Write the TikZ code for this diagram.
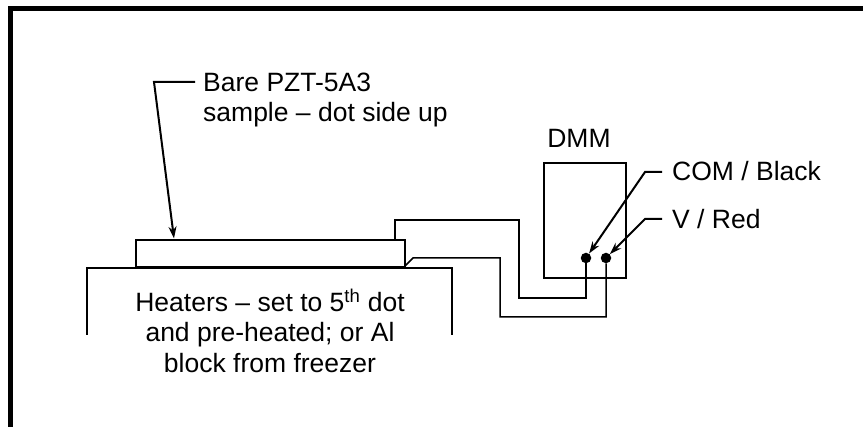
\documentclass[tikz,border=0pt]{standalone}
\usepackage{fontspec}
\setmainfont{Liberation Sans}
\usetikzlibrary{arrows.meta}
\tikzset{
 px/.style={x=1pt,y=-1pt},
 lbl/.style={inner sep=0pt,font=\fontsize{26.5}{30}\selectfont,text=black},
 frameline/.style={line width=4.6pt,line cap=butt},
 thick box/.style={line width=2.2pt},
 wire/.style={line width=1.5pt},
 leader/.style={line width=2pt,-{Stealth[length=12pt,width=8pt]}},
 term/.style={circle,fill=black,minimum size=10.5pt,inner sep=0pt},
}
\begin{document}
\begin{tikzpicture}[px]
\useasboundingbox (0,0) rectangle (863,427);
\fill[white] (0,0) rectangle (863,427);
% frame
\coordinate (fbl) at (10.5,427); \coordinate (ftl) at (10.5,8.5); \coordinate (ftr) at (863,8.5);
\draw[frameline] (fbl) -- (ftl) -- (ftr);
% heater
\coordinate (hbl) at (87,335); \coordinate (htl) at (87,268); \coordinate (htr) at (452,268); \coordinate (hbr) at (452,335);
\draw[thick box] (hbl) -- (htl) -- (htr) -- (hbr);
% sample
\node[draw,thick box,minimum width=269pt,minimum height=27.5pt,inner sep=0pt,anchor=north west] (sample) at (135,239) {};
% DMM
\node[draw,thick box,minimum width=82pt,minimum height=115pt,inner sep=0pt,anchor=north west] (dmm) at (543,162) {};
\node[term] (com) at (586,258) {};
\node[term] (vr) at (606,258) {};
% labels
\node[lbl,anchor=base west] (bare) at (203,92) {Bare PZT-5A3};
\node[lbl,anchor=base west] (dotside) at (203,122) {sample -- dot side up};
\node[lbl,anchor=base] (dmmlbl) at (579,148) {DMM};
\node[lbl,anchor=base west] (comlbl) at (672,181) {COM / Black};
\node[lbl,anchor=base west] (vlbl) at (672,229) {V / Red};
\node[lbl,anchor=base] (h1) at (270,312) {Heaters -- set to 5\textsuperscript{th} dot};
\node[lbl,anchor=base] (h2) at (270,342) {and pre-heated; or Al};
\node[lbl,anchor=base] (h3) at (270,373) {block from freezer};
% leaders
\coordinate (a0) at (195,82); \coordinate (a1) at (154,82); \coordinate (a2) at (174,238.5);
\draw[leader] (a0) -- (a1) -- (a2);
\coordinate (b0) at (662,172); \coordinate (b1) at (645,172);
\draw[leader] (b0) -- (b1) -- (com);
\coordinate (c0) at (662,219); \coordinate (c1) at (645,219);
\draw[leader] (c0) -- (c1) -- (vr);
% wires
\coordinate (w1a) at (395,239); \coordinate (w1b) at (395,220); \coordinate (w1c) at (519,220); \coordinate (w1d) at (519,298); \coordinate (w1e) at (586,298);
\draw[wire] (w1a) -- (w1b) -- (w1c) -- (w1d) -- (w1e) -- (com);
\coordinate (w2a) at (405,266); \coordinate (w2b) at (413,258); \coordinate (w2c) at (500,258); \coordinate (w2d) at (500,317); \coordinate (w2e) at (606,317);
\draw[wire] (w2a) -- (w2b) -- (w2c) -- (w2d) -- (w2e) -- (vr);
\end{tikzpicture}
\end{document}
